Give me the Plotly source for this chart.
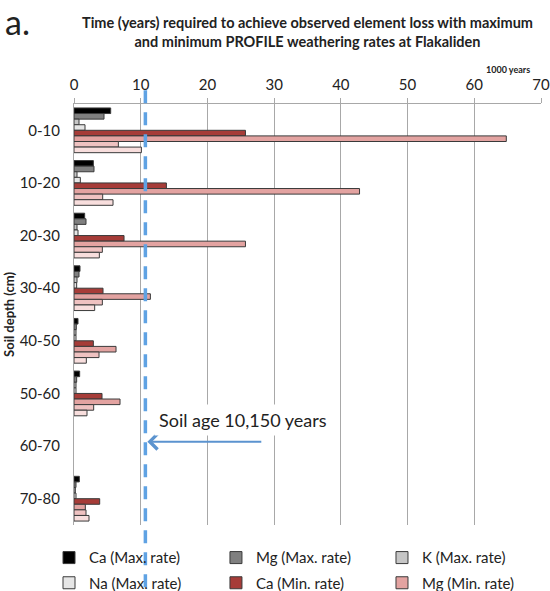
import plotly.graph_objects as go

depths = ["0-10", "10-20", "20-30", "30-40", "40-50", "50-60", "60-70", "70-80"]
ca_max = [5.5, 2.9, 1.6, 0.9, 0.6, 0.85, None, 0.8]
mg_max = [4.5, 3.0, 1.8, 0.75, 0.35, 0.4, None, 0.3]
k_max = [0.75, 0.45, 0.45, 0.45, 0.3, 0.3, None, 0.2]
na_max = [1.65, 0.95, 0.6, 0.4, 0.3, 0.3, None, 0.3]
ca_min = [25.7, 13.85, 7.5, 4.35, 2.9, 4.2, None, 3.85]
mg_min = [64.8, 42.8, 25.7, 11.45, 6.3, 6.9, None, 1.7]
k_min = [6.65, 4.3, 4.25, 4.25, 3.75, 2.95, None, 1.8]
na_min = [10.1, 5.85, 3.8, 3.1, 1.85, 1.95, None, 2.25]

series_names = ["Ca (Max. rate)", "Mg (Max. rate)", "K (Max. rate)", "Na (Max. rate)",
                "Ca (Min. rate)", "Mg (Min. rate)", "K (Min. rate)", "Na (Min. rate)"]
series_vals = [ca_max, mg_max, k_max, na_max, ca_min, mg_min, k_min, na_min]
series_colors = ["#000000", "#808080", "#c6c6c6", "#e6e6e6",
                 "#a63c38", "#e3a3a1", "#efc2c1", "#f8dedd"]

soil_age_line = 10.7
arrow_tail = 28.3

FONT = "Lato"
TXT = "#222222"

# legend grid: 3 columns, rows (third row falls below the visible page, as in the original)
leg_cols = [-0.0535, 0.304, 0.6595]
leg_rows = [-0.078, -0.1378, -0.197]

fig = go.Figure()
legend_layout = {}
for i, (name, vals, col) in enumerate(zip(series_names, series_vals, series_colors)):
    key = "legend" if i == 0 else f"legend{i + 1}"
    fig.add_trace(go.Bar(
        y=depths, x=vals, name=name, orientation="h", legend=key,
        marker=dict(color=col, line=dict(color="#3a3a3a", width=1)),
    ))
    legend_layout[key] = dict(
        orientation="h", x=leg_cols[i % 3], y=leg_rows[i // 3],
        xanchor="left", yanchor="middle",
        font=dict(family=FONT, size=15, color=TXT),
        itemwidth=30, bgcolor="rgba(0,0,0,0)",
    )

fig.update_layout(
    width=550, height=591,
    margin=dict(l=74, r=9, t=104, b=66, autoexpand=False),
    barmode="group", bargap=0.15, bargroupgap=0,
    plot_bgcolor="white", paper_bgcolor="white",
    font=dict(family=FONT, color=TXT),
    showlegend=True,
    xaxis=dict(
        side="top", range=[0, 70], dtick=10, tick0=0,
        showgrid=True, gridcolor="#a8a8a8", gridwidth=1,
        showline=True, linecolor="#a8a8a8", linewidth=1,
        ticks="outside", ticklen=5, tickcolor="#a8a8a8", ticklabelstandoff=2,
        tickfont=dict(family=FONT, size=15, color=TXT),
        zeroline=False, fixedrange=True,
    ),
    yaxis=dict(
        type="category", autorange="reversed",
        showline=True, linecolor="#a8a8a8", linewidth=1,
        showgrid=False, ticks="", ticklabelstandoff=10,
        tickfont=dict(family=FONT, size=15, color=TXT),
        title=dict(text="<b>Soil depth (cm)</b>", font=dict(family=FONT, size=13, color=TXT),
                   standoff=2),
        fixedrange=True,
    ),
    **legend_layout,
)

# Title and panel label
fig.add_annotation(
    xref="paper", yref="paper", x=0.5, y=1.171, xanchor="center", yanchor="middle",
    text="<b>Time (years) required to achieve observed element loss with maximum<br>"
         "and minimum PROFILE weathering rates at Flakaliden</b>",
    showarrow=False, font=dict(family=FONT, size=14.5, color=TXT),
)
fig.add_annotation(
    xref="paper", yref="paper", x=-0.152, y=1.197, xanchor="left", yanchor="middle",
    text="a.", showarrow=False, font=dict(family=FONT, size=34, color=TXT),
)
fig.add_annotation(
    xref="paper", yref="paper", x=0.929, y=1.082, xanchor="center", yanchor="middle",
    text="<b>1000 years</b>", showarrow=False, font=dict(family=FONT, size=9, color=TXT),
)

# Soil age line
fig.add_shape(
    type="line", xref="x", yref="paper", x0=soil_age_line, x1=soil_age_line,
    y0=-0.2, y1=1.038, line=dict(color="#5fa2e3", width=3.5, dash="13px,9px"), layer="above",
)
fig.add_annotation(
    xref="x", yref="paper", x=soil_age_line, y=0.198,
    axref="x", ayref="pixel", ax=arrow_tail, ay=0,
    showarrow=True, arrowhead=4, arrowsize=1.5, arrowwidth=2, arrowcolor="#5b93cf",
    text="", standoff=2,
)
fig.add_annotation(
    xref="x", yref="paper", x=12.0, y=0.249, xanchor="left", yanchor="middle",
    text="Soil age 10,150 years", showarrow=False, bgcolor="white", borderpad=4,
    font=dict(family=FONT, size=18, color=TXT),
)

fig.write_html("out.html")
